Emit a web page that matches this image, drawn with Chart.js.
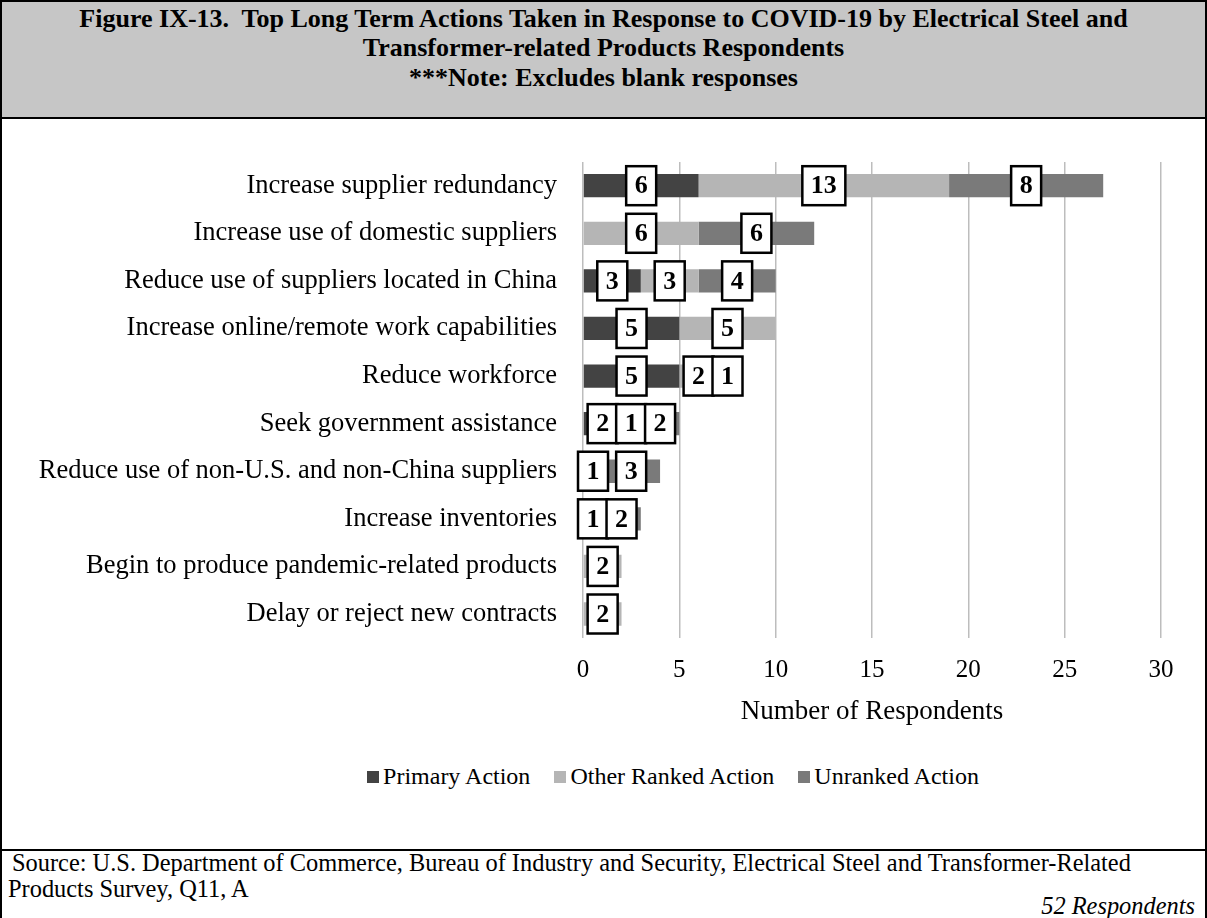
<!DOCTYPE html>
<html>
<head>
<meta charset="utf-8">
<title>Figure IX-13</title>
<script src="https://cdn.jsdelivr.net/npm/chart.js@4.4.1/dist/chart.umd.min.js"></script>
<style>
  body { margin: 0; width: 1207px; height: 918px; position: relative; overflow: hidden; background: #fff;
         font-family: "Liberation Serif", "Times New Roman", serif; color: #000; }
  #header { position: absolute; left: 0; top: 0; width: 1207px; height: 119px; box-sizing: border-box;
            border: 2px solid #000; background: #c6c6c6; }
  .tline { position: absolute; left: 0; width: 100%; text-align: center; font-weight: bold; font-size: 26px; line-height: 30px; }
  #body { position: absolute; left: 0; top: 119px; width: 1207px; height: 799px; box-sizing: border-box;
          border-left: 2px solid #000; border-right: 2px solid #000; }
  #divider { position: absolute; left: 0; top: 849px; width: 1207px; height: 2px; background: #000; }
  #chartBox { position: absolute; left: 2px; top: 120px; width: 1203px; height: 640px; }
  #legend { position: absolute; left: 0; top: 761px; width: 1346px; text-align: center; font-size: 24px; line-height: 30px; white-space: nowrap; }
  #legend span.item { margin: 0 12px; }
  #legend span.sw { display: inline-block; width: 12px; height: 12px; margin-right: 4px; vertical-align: 1px; }
  .src { position: absolute; font-size: 24.4px; line-height: 26px; white-space: nowrap; }
</style>
</head>
<body>
<div id="header">
  <div class="tline" style="top:2px">Figure IX-13.&nbsp; Top Long Term Actions Taken in Response to COVID-19 by Electrical Steel and</div>
  <div class="tline" style="top:31px">Transformer-related Products Respondents</div>
  <div class="tline" style="top:61px">***Note: Excludes blank responses</div>
</div>
<div id="body"></div>
<div id="chartBox"><canvas id="theChart"></canvas></div>
<div id="legend"></div>
<div id="divider"></div>
<div class="src" style="left:12px; top:850px">Source: U.S. Department of Commerce, Bureau of Industry and Security, Electrical Steel and Transformer-Related</div>
<div class="src" style="left:8px; top:876px">Products Survey, Q11, A</div>
<div class="src" style="right:12px; top:893px; font-style:italic">52 Respondents</div>

<script>
const categories = [
    "Increase supplier redundancy",
    "Increase use of domestic suppliers",
    "Reduce use of suppliers located in China",
    "Increase online/remote work capabilities",
    "Reduce workforce",
    "Seek government assistance",
    "Reduce use of non-U.S. and non-China suppliers",
    "Increase inventories",
    "Begin to produce pandemic-related products",
    "Delay or reject new contracts"
];
const primaryAction = [6, 0, 3, 5, 5, 2, 1, 1, 0, 0];
const otherRankedAction = [13, 6, 3, 5, 2, 1, 0, 0, 2, 2];
const unrankedAction = [8, 6, 4, 0, 1, 2, 3, 2, 0, 0];
const xTicks = [0, 5, 10, 15, 20, 25, 30];

const seriesNames = ["Primary Action", "Other Ranked Action", "Unranked Action"];
const seriesColors = ["#434343", "#b5b5b5", "#7a7a7a"];

Chart.defaults.font.family = '"Liberation Serif", "Times New Roman", serif';
Chart.defaults.color = "#000";

// white boxes with the value, drawn over each bar segment
const boxLabels = {
    id: "boxLabels",
    afterDatasetsDraw(chart) {
        const ctx = chart.ctx;
        ctx.save();
        ctx.font = 'bold 26px "Liberation Serif", serif';
        ctx.textAlign = "center";
        ctx.textBaseline = "middle";
        chart.data.datasets.forEach((ds, i) => {
            chart.getDatasetMeta(i).data.forEach((bar, j) => {
                const v = ds.data[j];
                if (!v) return;
                const txt = String(v);
                const cx = (bar.x + bar.base) / 2;
                const w = ctx.measureText(txt).width + 17;
                const h = 39;
                ctx.fillStyle = "#fff";
                ctx.fillRect(cx - w / 2, bar.y - h / 2, w, h);
                ctx.lineWidth = 2.5;
                ctx.strokeStyle = "#000";
                ctx.strokeRect(cx - w / 2, bar.y - h / 2, w, h);
                ctx.fillStyle = "#000";
                ctx.fillText(txt, cx, bar.y + 1);
            });
        });
        ctx.restore();
    }
};

const dataSets = [primaryAction, otherRankedAction, unrankedAction].map((d, i) => ({
    label: seriesNames[i],
    data: d,
    backgroundColor: seriesColors[i],
    borderWidth: 0,
    barPercentage: 0.98,
    categoryPercentage: 0.5
}));

const theChart = new Chart(document.getElementById("theChart"), {
    type: "bar",
    data: { labels: categories, datasets: dataSets },
    options: {
        indexAxis: "y",
        responsive: true,
        maintainAspectRatio: false,
        animation: false,
        layout: { padding: { top: 31, right: 44, bottom: 40, left: 0 } },
        scales: {
            x: {
                stacked: true,
                min: 0,
                max: 30,
                afterBuildTicks: (scale) => { scale.ticks = xTicks.map((v) => ({ value: v })); },
                grid: { color: "#bdbdbd", lineWidth: 1.5, drawTicks: false },
                border: { display: false },
                ticks: { font: { size: 25 }, padding: 18 },
                title: {
                    display: true,
                    text: "Number of Respondents",
                    font: { size: 27, lineHeight: 0.6 },
                    padding: { top: 0, bottom: 0 }
                }
            },
            y: {
                stacked: true,
                grid: { display: false, drawTicks: false },
                border: { display: false },
                ticks: { font: { size: 26.5 }, padding: 26 },
                afterFit: (scale) => { scale.width = 581; }
            }
        },
        plugins: {
            legend: { display: false },
            tooltip: { enabled: false }
        }
    },
    plugins: [boxLabels]
});

// legend under the axis title
const legendEl = document.getElementById("legend");
seriesNames.forEach((name, i) => {
    const item = document.createElement("span");
    item.className = "item";
    item.innerHTML = '<span class="sw" style="background:' + seriesColors[i] + '"></span>' + name;
    legendEl.appendChild(item);
});
</script>
</body>
</html>
